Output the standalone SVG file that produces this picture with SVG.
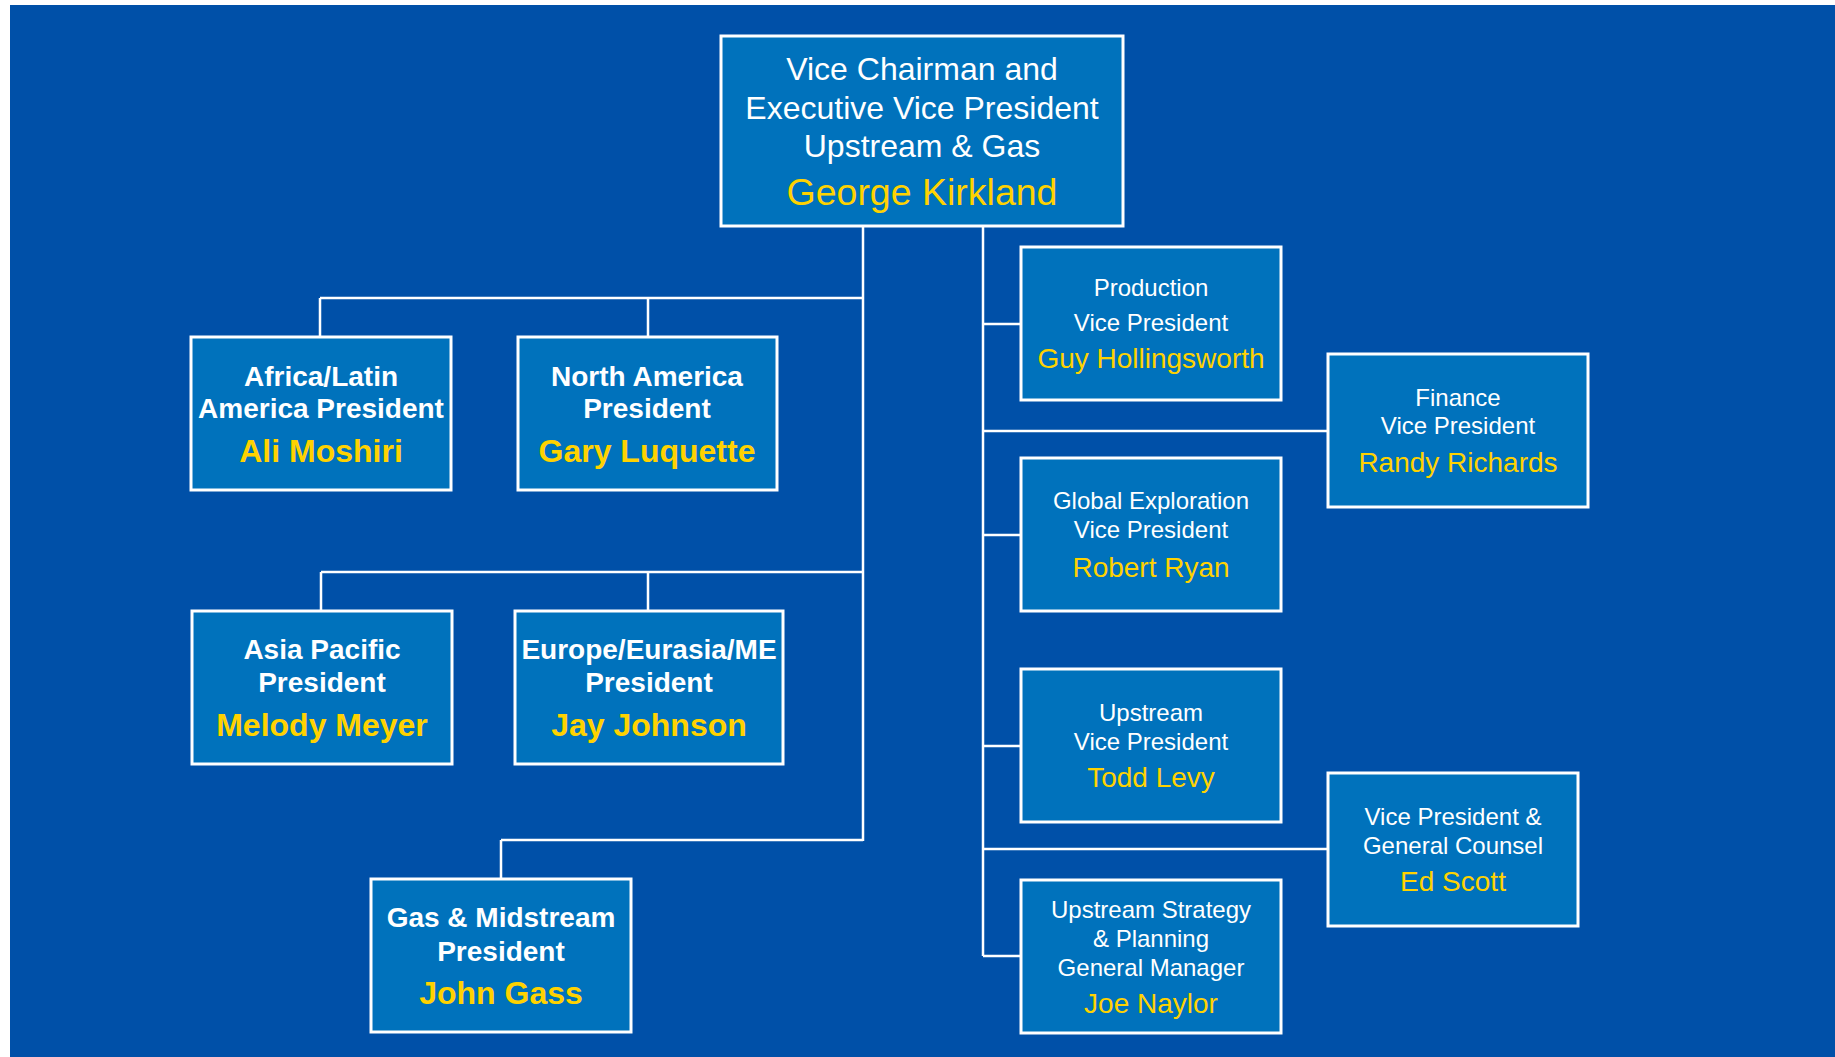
<svg xmlns="http://www.w3.org/2000/svg" width="1835" height="1057" viewBox="0 0 1835 1057">
<style>
.box{fill:#0072BC;stroke:#FFFFFF;stroke-width:3}
.ln{fill:none;stroke:#FFFFFF;stroke-width:2.5}
text{font-family:"Liberation Sans",Arial,sans-serif;text-anchor:middle}
.t{fill:#FFFFFF}
.n{fill:#FFD200}
.b{font-weight:bold}
.tt{font-size:32px}
.tn{font-size:37.5px}
.lt{font-size:28px}
.lnm{font-size:32px}
.rt{font-size:24px}
.rn{font-size:28px}
</style>
<rect x="0" y="0" width="1835" height="1057" fill="#FFFFFF"/>
<rect x="10" y="5" width="1825" height="1052" fill="#0050A8"/>
<g id="connectors">
<path class="ln" d="M863 226V841M320 298H863M320 298V337M648 298V337M321 572H863M321 572V611M648 572V611M501 840H863M501 840V879"/>
<path class="ln" d="M983 226V956M983 324H1021M983 431H1328M983 535H1021M983 746H1021M983 849H1328M983 956H1021"/>
</g>
<g id="kirkland">
<rect class="box" x="721" y="36" width="402" height="190"/>
<text class="t tt" x="922" y="80">Vice Chairman and</text>
<text class="t tt" x="922" y="119">Executive Vice President</text>
<text class="t tt" x="922" y="157">Upstream &amp; Gas</text>
<text class="n tn" x="922" y="205">George Kirkland</text>
</g>
<g id="moshiri">
<rect class="box" x="191" y="337" width="260" height="153"/>
<text class="t b lt" x="321" y="386">Africa/Latin</text>
<text class="t b lt" x="321" y="418">America President</text>
<text class="n b lnm" x="321" y="462">Ali Moshiri</text>
</g>
<g id="luquette">
<rect class="box" x="518" y="337" width="259" height="153"/>
<text class="t b lt" x="647" y="386">North America</text>
<text class="t b lt" x="647" y="418">President</text>
<text class="n b lnm" x="647" y="462">Gary Luquette</text>
</g>
<g id="meyer">
<rect class="box" x="192" y="611" width="260" height="153"/>
<text class="t b lt" x="322" y="659">Asia Pacific</text>
<text class="t b lt" x="322" y="692">President</text>
<text class="n b lnm" x="322" y="736">Melody Meyer</text>
</g>
<g id="johnson">
<rect class="box" x="515" y="611" width="268" height="153"/>
<text class="t b lt" x="649" y="659">Europe/Eurasia/ME</text>
<text class="t b lt" x="649" y="692">President</text>
<text class="n b lnm" x="649" y="736">Jay Johnson</text>
</g>
<g id="gass">
<rect class="box" x="371" y="879" width="260" height="153"/>
<text class="t b lt" x="501" y="927">Gas &amp; Midstream</text>
<text class="t b lt" x="501" y="961">President</text>
<text class="n b lnm" x="501" y="1004">John Gass</text>
</g>
<g id="hollingsworth">
<rect class="box" x="1021" y="247" width="260" height="153"/>
<text class="t rt" x="1151" y="296">Production</text>
<text class="t rt" x="1151" y="331">Vice President</text>
<text class="n rn" x="1151" y="368">Guy Hollingsworth</text>
</g>
<g id="richards">
<rect class="box" x="1328" y="354" width="260" height="153"/>
<text class="t rt" x="1458" y="406">Finance</text>
<text class="t rt" x="1458" y="434">Vice President</text>
<text class="n rn" x="1458" y="472">Randy Richards</text>
</g>
<g id="ryan">
<rect class="box" x="1021" y="458" width="260" height="153"/>
<text class="t rt" x="1151" y="509">Global Exploration</text>
<text class="t rt" x="1151" y="538">Vice President</text>
<text class="n rn" x="1151" y="577">Robert Ryan</text>
</g>
<g id="levy">
<rect class="box" x="1021" y="669" width="260" height="153"/>
<text class="t rt" x="1151" y="721">Upstream</text>
<text class="t rt" x="1151" y="750">Vice President</text>
<text class="n rn" x="1151" y="787">Todd Levy</text>
</g>
<g id="scott">
<rect class="box" x="1328" y="773" width="250" height="153"/>
<text class="t rt" x="1453" y="825">Vice President &amp;</text>
<text class="t rt" x="1453" y="854">General Counsel</text>
<text class="n rn" x="1453" y="891">Ed Scott</text>
</g>
<g id="naylor">
<rect class="box" x="1021" y="880" width="260" height="153"/>
<text class="t rt" x="1151" y="918">Upstream Strategy</text>
<text class="t rt" x="1151" y="947">&amp; Planning</text>
<text class="t rt" x="1151" y="976">General Manager</text>
<text class="n rn" x="1151" y="1013">Joe Naylor</text>
</g>
</svg>
